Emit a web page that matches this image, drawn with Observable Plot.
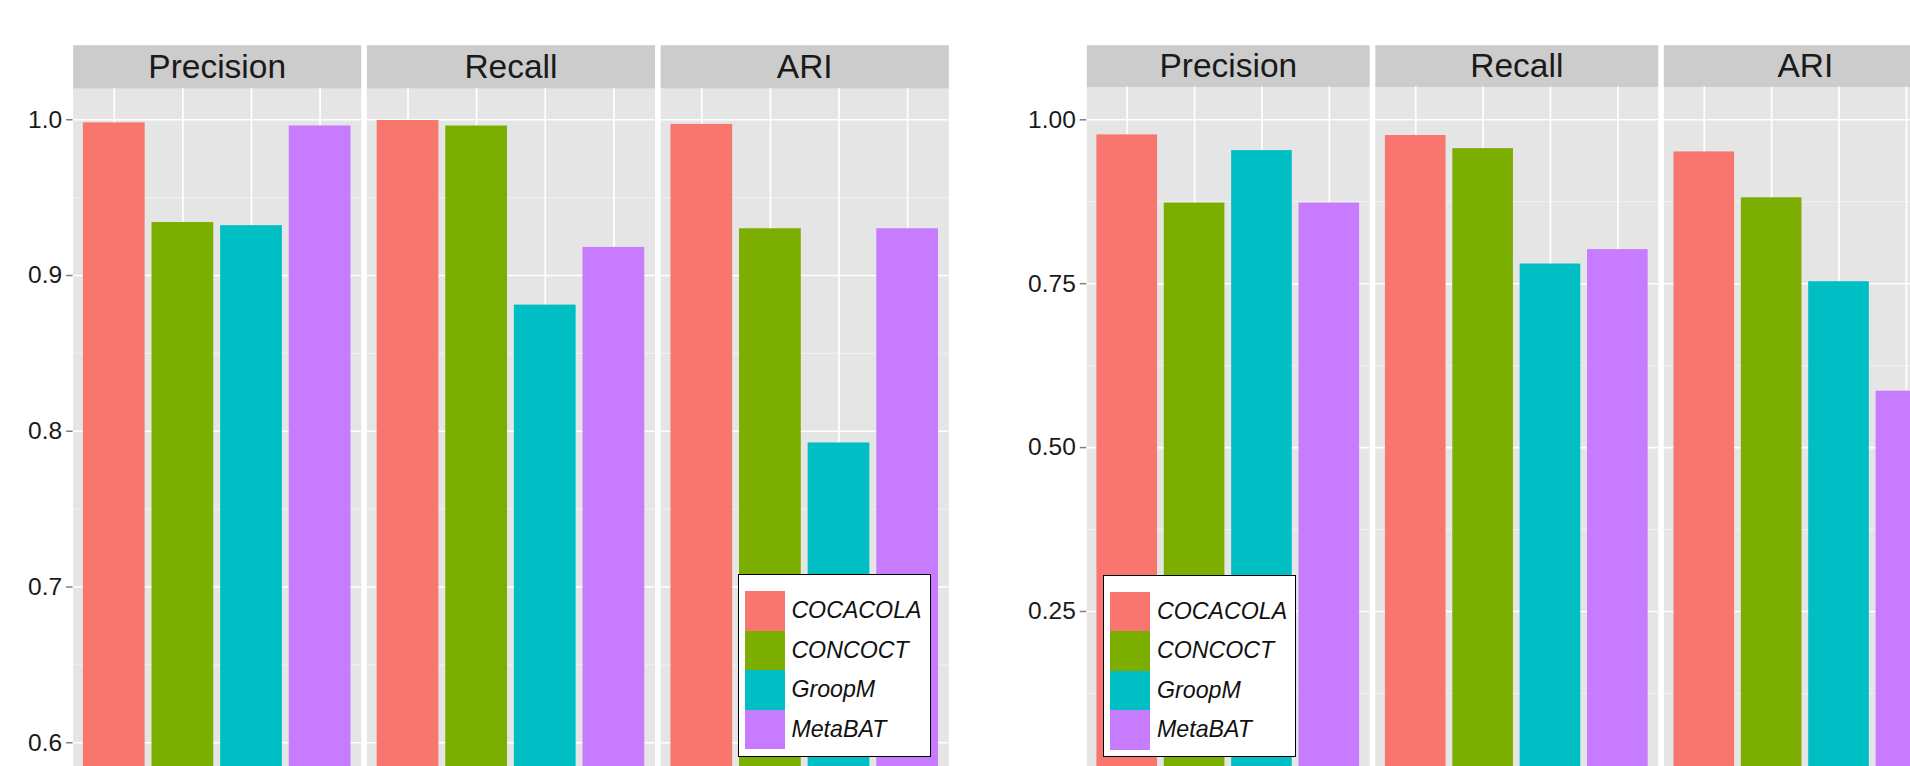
<!DOCTYPE html>
<html>
<head>
<meta charset="utf-8">
<script src="https://cdn.jsdelivr.net/npm/d3@7"></script>
<script src="https://cdn.jsdelivr.net/npm/@observablehq/plot@0.6"></script>
<style>
  html, body { margin: 0; padding: 0; background: #ffffff; overflow: hidden; }
  #root { position: relative; width: 1910px; height: 766px; overflow: hidden;
          font-family: "Liberation Sans", Arial, Helvetica, sans-serif; background: #fff; }
  .chart { position: absolute; top: 0; }
  .legend { position: absolute; box-sizing: border-box; border: 1.3px solid #000; background: #fff; }
  .key { position: absolute; width: 40px; height: 39.5px; }
  .lab { position: absolute; font-style: italic; font-size: 23.2px; color: #111; line-height: 39.5px; white-space: nowrap; }
</style>
</head>
<body>
<div id="root"></div>
<script>
// ---------- data ----------
const metrics = ["Precision", "Recall", "ARI"];
const methods = ["COCACOLA", "CONCOCT", "GroopM", "MetaBAT"];
const methodColors = ["#F8766D", "#7CAE00", "#00BFC4", "#C77CFF"];

// left chart
const leftPrecision = [0.998, 0.934, 0.932, 0.996];
const leftRecall    = [0.9995, 0.996, 0.881, 0.918];
const leftARI       = [0.997, 0.930, 0.7925, 0.930];
const leftTicks      = [0.6, 0.7, 0.8, 0.9, 1.0];
const leftMinorTicks = [0.65, 0.75, 0.85, 0.95];
const leftDomain     = [0.58, 1.02];

// right chart
const rightPrecision = [0.977, 0.873, 0.953, 0.873];
const rightRecall    = [0.976, 0.956, 0.780, 0.802];
const rightARI       = [0.951, 0.881, 0.753, 0.586];
const rightTicks      = [0.25, 0.5, 0.75, 1.0];
const rightMinorTicks = [0.125, 0.375, 0.625, 0.875];
const rightDomain     = [-0.05, 1.05];

// ---------- helpers ----------
const root = document.getElementById("root");
const colorScale = Plot.scale({color: {type: "ordinal", domain: methods, range: methodColors}});

function table(valuesByMetric) {
  const rows = [];
  metrics.forEach((m, i) => methods.forEach((k, j) => rows.push({metric: m, method: k, value: valuesByMetric[i][j]})));
  return rows;
}

function makeChart({values, domain, ticks, minor, fmt, left, width, height, marginLeft, marginRight, marginTop, marginBottom, stripTop, gap}) {
  const frameW = width - marginLeft - marginRight;
  const frameH = height - marginTop - marginBottom;
  const step = (frameW + gap) / 3;
  const chart = Plot.plot({
    width, height, marginLeft, marginRight, marginTop, marginBottom,
    style: {fontFamily: '"Liberation Sans", Arial, Helvetica, sans-serif', background: "transparent", overflow: "visible"},
    fx: {domain: metrics, paddingInner: gap / step, paddingOuter: 0, round: false, axis: null, label: null},
    x: {domain: methods, paddingInner: 0.1, paddingOuter: 0.15, round: false, axis: null, label: null},
    y: {domain, axis: null, label: null},
    color: {domain: methods, range: methodColors},
    marks: [
      Plot.frame({fill: "#E5E5E5", stroke: null}),
      Plot.frame({fill: "#CCCCCC", stroke: null, insetTop: -(marginTop - stripTop), insetBottom: frameH}),
      Plot.gridY({ticks: minor, stroke: "#F2F2F2", strokeOpacity: 1, strokeWidth: 1}),
      Plot.gridY({ticks, stroke: "#FFFFFF", strokeOpacity: 1, strokeWidth: 1.6}),
      Plot.gridX({stroke: "#FFFFFF", strokeOpacity: 1, strokeWidth: 1.7}),
      Plot.barY(table(values), {fx: "metric", x: "method", y: "value", fill: "method", clip: true}),
      Plot.text(metrics, {fx: d => d, text: d => d, frameAnchor: "top", lineAnchor: "middle",
                          dy: -(marginTop - stripTop) / 2, fontSize: 33.5, fill: "#1A1A1A"}),
      Plot.axisY({ticks, tickFormat: fmt, tickSize: 6.5, tickPadding: 4.5, fontSize: 24.5,
                  fill: "#1A1A1A", stroke: "#7F7F7F", strokeWidth: 1.5, label: null})
    ]
  });
  chart.classList.add("chart");
  chart.style.left = left + "px";
  root.appendChild(chart);
  return chart;
}

function addLegend(x, y, w, h) {
  const box = document.createElement("div");
  box.className = "legend";
  box.style.left = x + "px"; box.style.top = y + "px";
  box.style.width = w + "px"; box.style.height = h + "px";
  methods.forEach((m, i) => {
    const key = document.createElement("div");
    key.className = "key";
    key.style.left = "6px";
    key.style.top = (16 + i * 39.5) + "px";
    key.style.background = colorScale.apply(m);
    box.appendChild(key);
    const lab = document.createElement("div");
    lab.className = "lab";
    lab.style.left = "52.7px";
    lab.style.top = (16 + i * 39.5) + "px";
    lab.textContent = m;
    box.appendChild(lab);
  });
  root.appendChild(box);
}

// ---------- charts ----------
makeChart({
  values: [leftPrecision, leftRecall, leftARI], domain: leftDomain,
  ticks: leftTicks, minor: leftMinorTicks, fmt: ".1f",
  left: 0, width: 960, height: 800, marginLeft: 72.6, marginRight: 11.7,
  marginTop: 88.1, marginBottom: 800 - (88.1 + 0.44 * 1557.5), stripTop: 44.7, gap: 5.6
});

makeChart({
  values: [rightPrecision, rightRecall, rightARI], domain: rightDomain,
  ticks: rightTicks, minor: rightMinorTicks, fmt: ".2f",
  left: 960, width: 1000, height: 840, marginLeft: 126.3, marginRight: 13.7,
  marginTop: 86.5, marginBottom: 840 - (86.5 + 1.1 * 655.6), stripTop: 44.7, gap: 5.6
});

addLegend(737.7, 574, 193.3, 182.7);
addLegend(1103.3, 574.5, 192.4, 182.2);
</script>
</body>
</html>
